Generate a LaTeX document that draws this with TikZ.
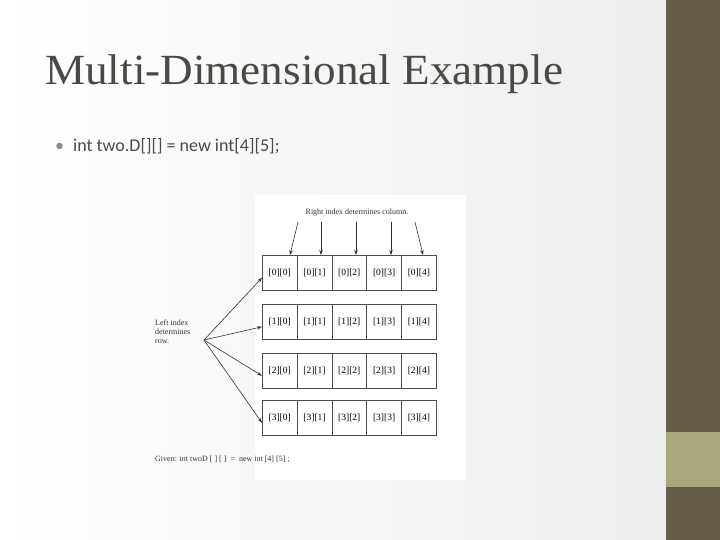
\documentclass[tikz,border=0pt]{standalone}
\usepackage{fontspec}
\setmainfont{Carlito}
\newfontfamily\figfont{Liberation Serif}
\usetikzlibrary{arrows.meta,positioning}
\definecolor{sidebar}{HTML}{655D47}
\definecolor{sideband}{HTML}{A9A87C}
\definecolor{titlegray}{HTML}{4A4A44}
\tikzset{
  cellbox/.style={draw=black!70,line width=0.6pt,minimum width=34.8pt,minimum height=35pt,inner sep=0pt,font=\figfont\fontsize{9.5}{9.5}\selectfont,anchor=north west},
  idxarrow/.style={-{Stealth[length=5pt,width=3.5pt]},line width=0.6pt,black!80},
  figlabel/.style={font=\figfont\fontsize{8}{9}\selectfont,text=black!80,align=left}
}
\begin{document}
\begin{tikzpicture}[x=1pt,y=-1pt]
  \useasboundingbox (0,0) rectangle (720,540);
  \fill[left color=white,right color=black!7] (0,0) rectangle (666,540);
  \fill[sidebar] (666,0) rectangle (720,540);
  \fill[sideband] (666,432) rectangle (720,487);
  \fill[white] (255,195) rectangle (466,480);

  \node[anchor=base west,inner sep=0pt,text=titlegray,font=\figfont\fontsize{43}{43}\selectfont,xscale=1.05] (title) at (45,85) {Multi-Dimensional Example};
  \node[anchor=base west,inner sep=0pt,text=titlegray,font=\fontsize{18}{18}\selectfont] (bullet) at (55,152) {\textcolor{black!45}{\textbullet}\enspace int two.D[][] = new int[4][5];};

  % grid of cells
  \foreach \r/\ry in {0/255,1/304,2/353,3/400}{
    \foreach \c in {0,...,4}{
      \node[cellbox] (c\r\c) at (262+34.8*\c,\ry) {[\r][\c]};
    }
  }

  % column label and arrows
  \node[figlabel] (collab) at (357,213) {Right index determines column.};
  \foreach \c/\sx/\ex in {0/298/290,1/321/321,2/356/356,3/391/391,4/415/423}{
    \coordinate (top\c) at (\sx,222);
    \draw[idxarrow] (top\c) -- (c0\c.north -| \ex,0);
  }

  % row label and arrows
  \node[figlabel,anchor=north west,inner sep=0pt] (rowlab) at (155,320) {Left index\\determines\\row.};
  \coordinate (fan) at (204,340);
  \foreach \r in {0,...,3}{
    \draw[idxarrow] (fan) -- ([yshift=-5pt]c\r0.west);
  }

  \node[figlabel,anchor=west,inner sep=0pt] (given) at (155,459) {Given: int twoD [ ] [ ] \ = \ new int [4] [5] ;};
\end{tikzpicture}
\end{document}
